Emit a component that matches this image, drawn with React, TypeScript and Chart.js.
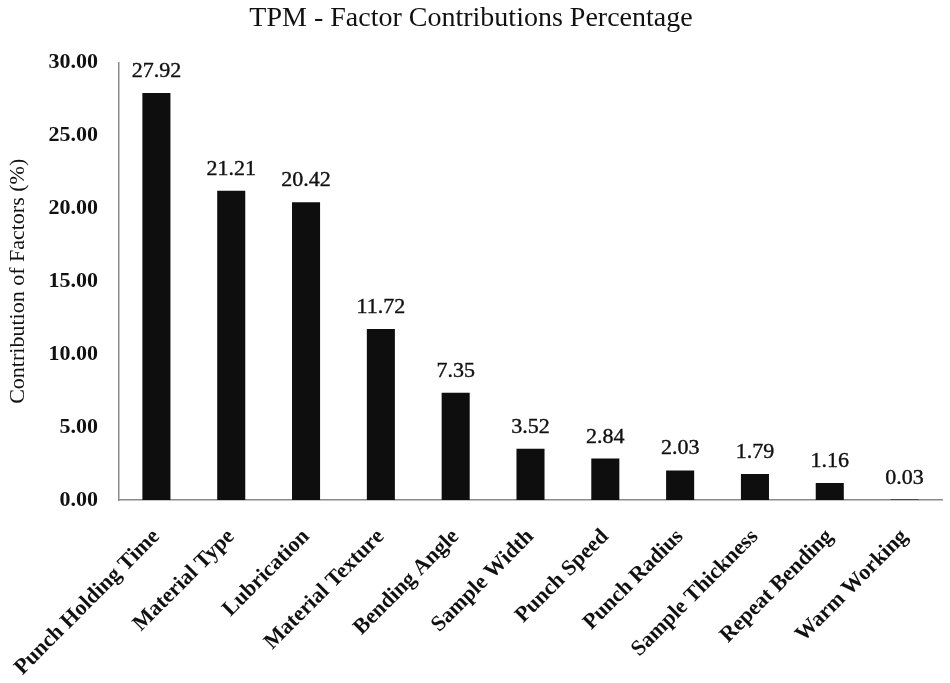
import { useEffect, useRef } from 'react'
import { Chart, registerables } from 'chart.js'

Chart.register(...registerables)

const factors = [
    'Punch Holding Time',
    'Material Type',
    'Lubrication',
    'Material Texture',
    'Bending Angle',
    'Sample Width',
    'Punch Speed',
    'Punch Radius',
    'Sample Thickness',
    'Repeat Bending',
    'Warm Working',
]
const contributions = [27.92, 21.21, 20.42, 11.72, 7.35, 3.52, 2.84, 2.03, 1.79, 1.16, 0.03]
const yTicks = [0, 5, 10, 15, 20, 25, 30]

const serif = "'Liberation Serif', 'Times New Roman', serif"

// values written over each bar
const barLabels = {
    id: 'barLabels',
    afterDatasetsDraw(chart: any) {
        const ctx = chart.ctx
        const meta = chart.getDatasetMeta(0)
        ctx.save()
        ctx.font = `22px ${serif}`
        ctx.fillStyle = '#111'
        ctx.strokeStyle = '#111'
        ctx.lineWidth = 0.4
        ctx.textAlign = 'center'
        ctx.textBaseline = 'alphabetic'
        meta.data.forEach((bar: any, i: number) => {
            const txt = contributions[i].toFixed(2)
            ctx.fillText(txt, bar.x, bar.y - 16)
            ctx.strokeText(txt, bar.x, bar.y - 16)
        })
        ctx.restore()
    },
}

const ContributionChart = () => {
    const chartRef = useRef<HTMLCanvasElement>(null)

    useEffect(() => {
        if (!chartRef.current) return

        const myChart = new Chart(chartRef.current, {
            type: 'bar',
            data: {
                labels: factors,
                datasets: [
                    {
                        data: contributions,
                        backgroundColor: '#0e0e0e',
                        borderWidth: 0,
                        barPercentage: 0.375,
                        categoryPercentage: 1,
                    },
                ],
            },
            options: {
                animation: false,
                responsive: true,
                maintainAspectRatio: false,
                layout: { padding: { left: 0, right: 8, top: 0, bottom: 0 } },
                scales: {
                    x: {
                        grid: { display: false, drawTicks: false },
                        border: { display: true, color: '#8a8a8a', width: 1.5 },
                        ticks: {
                            color: '#111',
                            font: { family: serif, size: 22, weight: 'bold' },
                            minRotation: 45,
                            maxRotation: 45,
                            padding: 24,
                            autoSkip: false,
                        },
                        afterFit: (s: any) => {
                            s.height = 183
                            s.paddingLeft = 0
                            s.paddingRight = 0
                        },
                    },
                    y: {
                        min: 0,
                        max: 30,
                        grid: { display: false, drawTicks: false },
                        border: { display: true, color: '#8a8a8a', width: 1.5 },
                        afterBuildTicks: (s: any) => {
                            s.ticks = yTicks.map((v) => ({ value: v }))
                        },
                        ticks: {
                            color: '#111',
                            font: { family: serif, size: 22, weight: 'bold' },
                            padding: 21,
                            callback: (v: any) => Number(v).toFixed(2),
                        },
                        title: {
                            display: true,
                            text: 'Contribution of Factors (%)',
                            color: '#111',
                            font: { family: serif, size: 22 },
                            padding: { top: 5, bottom: 0 },
                        },
                        afterFit: (s: any) => {
                            s.width = 119
                        },
                    },
                },
                plugins: {
                    legend: { display: false },
                    tooltip: { enabled: false },
                    title: {
                        display: true,
                        text: 'TPM - Factor Contributions Percentage',
                        color: '#111',
                        font: { family: serif, size: 28, weight: 'normal' },
                        padding: { top: 2, bottom: 27 },
                    },
                },
            },
            plugins: [barLabels],
        })

        return () => {
            myChart.destroy()
        }
    }, [])

    return (
        <div style={{ position: 'fixed', left: 0, top: 0, width: 950, height: 683, background: '#fff' }}>
            <canvas ref={chartRef} />
        </div>
    )
}

export default function App() {
    return <ContributionChart />
}
